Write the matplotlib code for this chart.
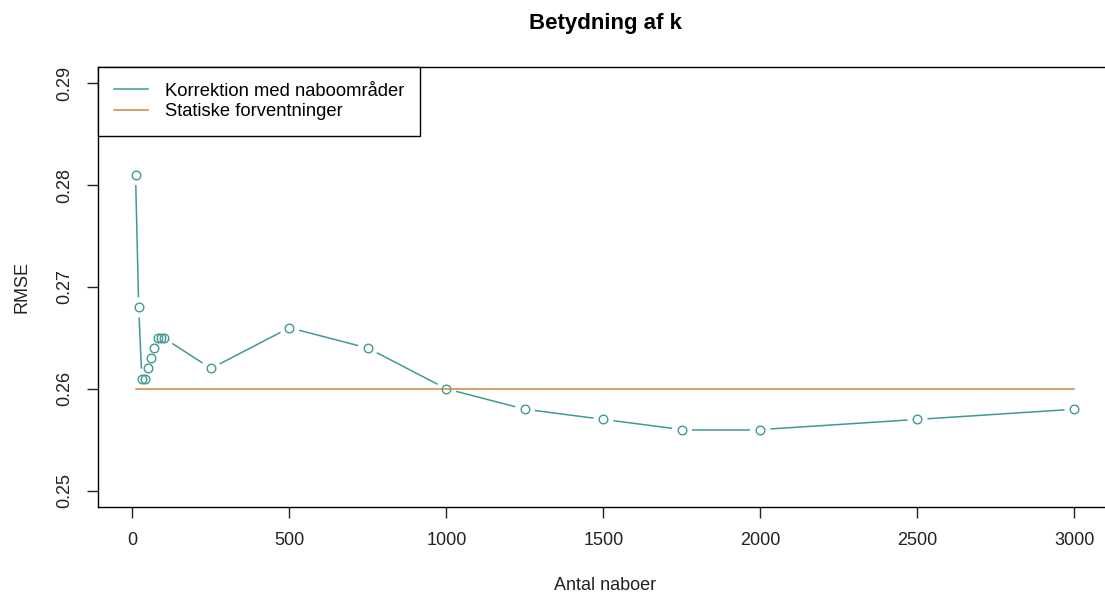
import matplotlib
matplotlib.use("Agg")
import matplotlib.pyplot as plt
from matplotlib.lines import Line2D
import numpy as np

plt.rcParams['font.family'] = ['Liberation Sans', 'DejaVu Sans']

k = [10, 20, 30, 40, 50, 60, 70, 80, 90, 100, 250, 500, 750, 1000, 1250, 1500, 1750, 2000, 2500, 3000]
rmse = [0.281, 0.268, 0.261, 0.261, 0.262, 0.263, 0.264, 0.265, 0.265, 0.265,
        0.262, 0.266, 0.264, 0.260, 0.258, 0.257, 0.256, 0.256, 0.257, 0.258]
static_x = [10, 3000]
static_y = [0.260, 0.260]
xticks = [0, 500, 1000, 1500, 2000, 2500, 3000]
yticks = [0.25, 0.26, 0.27, 0.28, 0.29]
labels = ['Korrektion med naboområder', 'Statiske forventninger']

teal = '#3f9a94'
orange = '#c9883f'
FS = 13

W, H = 1105, 595
fig = plt.figure(figsize=(W / 100, H / 100), dpi=100)
L, R, T, B = 98, 1112, 67, 507
ax = fig.add_axes([L / W, 1 - B / H, (R - L) / W, (B - T) / H])

xmin, xmax = min(k), max(k)
r = xmax - xmin
ax.set_xlim(xmin - 0.04 * r, xmax + 0.04 * r)
ax.set_ylim(0.2484, 0.2916)

# R type="b": line segments with gaps around the points
gap = 10.0  # pixels
pts = ax.transData.transform(np.column_stack([k, rmse]))
inv = ax.transData.inverted()
for i in range(len(pts) - 1):
    p0, p1 = pts[i], pts[i + 1]
    d = np.hypot(*(p1 - p0))
    if d > 2 * gap:
        u = (p1 - p0) / d
        seg = inv.transform(np.array([p0 + u * gap, p1 - u * gap]))
        ax.plot(seg[:, 0], seg[:, 1], color=teal, lw=1.1, zorder=2, solid_capstyle='butt')

ax.plot(k, rmse, linestyle='none', marker='o', markersize=6.2,
        markerfacecolor='none', markeredgecolor=teal, markeredgewidth=1.0, zorder=3)
ax.plot(static_x, static_y, color=orange, lw=1.1, zorder=4)

ax.set_xticks(xticks)
ax.set_xticklabels([str(v) for v in xticks])
ax.set_yticks(yticks)
ax.set_yticklabels([f'{v:.2f}' for v in yticks], rotation=90, va='center')

for s in ax.spines.values():
    s.set_linewidth(1.0)
    s.set_color('black')
ax.tick_params(axis='both', length=8, width=1, labelsize=FS, color='#222222', labelcolor='#222222')
ax.tick_params(axis='x', pad=10)
ax.tick_params(axis='y', pad=10)

ax.set_xlabel('Antal naboer', fontsize=FS, labelpad=20, color='#222222')
ax.set_ylabel('RMSE', fontsize=FS, labelpad=18, color='#222222')
fig.text(605 / W, 1 - 23 / H, 'Betydning af k', ha='center', va='center', fontsize=16, fontweight='bold')

handles = [Line2D([], [], color=teal, lw=1.1), Line2D([], [], color=orange, lw=1.1)]
leg = ax.legend(handles, labels,
                loc='upper left', bbox_to_anchor=(0, 1), borderaxespad=0,
                fancybox=False, edgecolor='black', framealpha=1, fontsize=13.2,
                handlelength=1.9, handletextpad=0.9, borderpad=0.85, labelspacing=0.2)
leg.get_frame().set_linewidth(1.0)

fig.savefig('out.png', dpi=100)
